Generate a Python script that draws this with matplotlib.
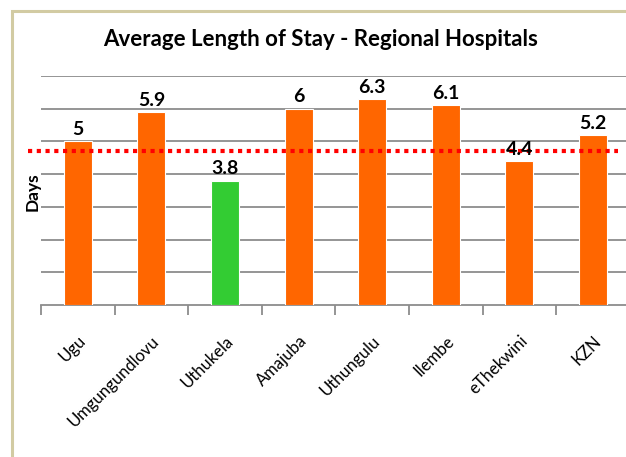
import matplotlib
matplotlib.use("Agg")
import matplotlib.pyplot as plt
import matplotlib.patches as mpatches
import numpy as np

categories = ["Ugu", "Umgungundlovu", "Uthukela", "Amajuba", "Uthungulu", "Ilembe", "eThekwini", "KZN"]
values = [5, 5.9, 3.8, 6, 6.3, 6.1, 4.4, 5.2]
value_labels = ["5", "5.9", "3.8", "6", "6.3", "6.1", "4.4", "5.2"]
target = 4.7
highlight = [False, False, True, False, False, False, False, False]

plt.rcParams['font.family'] = ['Lato', 'DejaVu Sans']

W, H = 626, 457
fig = plt.figure(figsize=(W/100, H/100), dpi=100)
fig.patch.set_facecolor("white")

ax = fig.add_axes([41/W, 1-305/H, 588.8/W, (305-76)/H])
x = np.arange(len(categories))
colors = ["#33cc33" if h else "#ff6600" for h in highlight]
bars = ax.bar(x, values, width=0.38, color=colors, edgecolor="white", linewidth=0.8, zorder=3)

for xi, v, lab in zip(x, values, value_labels):
    ax.text(xi, v + 0.1, lab, ha="center", va="bottom", fontsize=14, fontweight="bold", color="black", zorder=5)

ax.set_xlim(-0.5, len(categories) - 0.5)
ax.set_ylim(0, 7)
ax.set_yticks(np.arange(1, 8))
ax.yaxis.grid(True, color="#8c8c8c", linewidth=1.3, zorder=0)
ax.tick_params(axis="y", length=0, labelleft=False)
ax.set_xticks(x)
ax.set_xticklabels(categories, rotation=45, ha="right", rotation_mode="anchor", fontsize=12)
ax.tick_params(axis="x", which="major", length=0, pad=20)
ax.set_xticks(np.arange(len(categories)) - 0.5, minor=True)
ax.tick_params(axis="x", which="minor", length=7, color="#8c8c8c", width=1.3)
for s in ["top", "right", "left"]:
    ax.spines[s].set_visible(False)
ax.spines["bottom"].set_color("#8c8c8c")
ax.spines["bottom"].set_linewidth(1.3)
ax.set_axisbelow(True)

# target line
ax.plot([-0.67, 7.34], [target, target], color="red", linestyle=(0, (1, 1.1)), linewidth=3, clip_on=False, zorder=4)

fig.text(321/W, 1-40/H, "Average Length of Stay - Regional Hospitals", ha="center", va="center",
         fontsize=16, fontweight="bold")
fig.text(33/W, 1-192/H, "Days", rotation=90, ha="center", va="center", fontsize=12.5, fontweight="bold")

border = mpatches.Rectangle((12/W, -0.1), 1.2, 1 - 11/H + 0.1, transform=fig.transFigure,
                            fill=False, edgecolor="#d2cba3", linewidth=2.2)
fig.patches.append(border)

fig.savefig("out.png", dpi=100, facecolor="white")
